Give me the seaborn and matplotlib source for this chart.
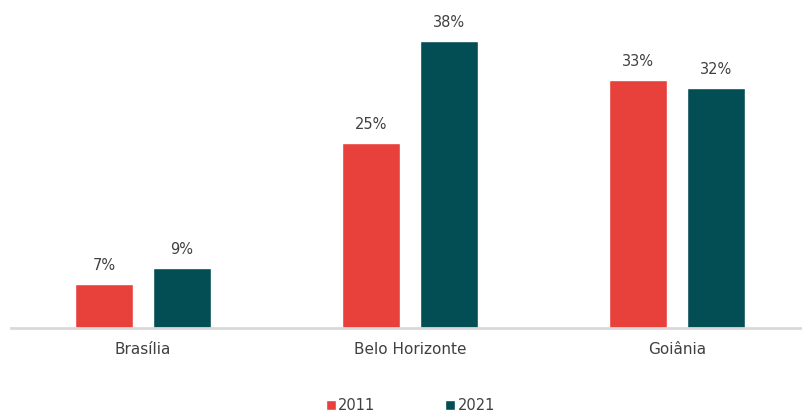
import matplotlib.pyplot as plt
import pandas as pd
import seaborn as sns

cities = ['Brasília', 'Belo Horizonte', 'Goiânia']
years = ['2011', '2021']
values_2011 = [7, 25, 33]
values_2021 = [9, 38, 32]
colors = ['#E8403A', '#034E55']

df = pd.DataFrame({
    'city': cities * 2,
    'year': [years[0]] * 3 + [years[1]] * 3,
    'value': values_2011 + values_2021,
})

sns.set_style('white')
plt.rcParams['font.family'] = ['DejaVu Sans']

fig = plt.figure(figsize=(8.03, 4.12), dpi=100)
ax = fig.add_axes([11 / 803, 84 / 412, 792 / 803, 318 / 412])

sns.barplot(data=df, x='city', y='value', hue='year', palette=colors,
            width=0.584, gap=0.256, ax=ax, legend=True, saturation=1)

for cont in ax.containers:
    ax.bar_label(cont, fmt='%d%%', padding=8, fontsize=10.5, color='#404040')

ax.set_ylim(1.4, 42)
ax.set_xlim(-0.494, 2.47)
ax.set_xlabel('')
ax.set_ylabel('')
ax.set_yticks([])
ax.tick_params(axis='x', length=0, labelsize=11, labelcolor='#404040', pad=10)
for s in ['top', 'right', 'left']:
    ax.spines[s].set_visible(False)
ax.spines['bottom'].set_color('#D9D9D9')
ax.spines['bottom'].set_linewidth(2)

handles, labels = ax.get_legend_handles_labels()
ax.get_legend().remove()
fig.legend(handles, labels, loc='lower center', bbox_to_anchor=(0.511, -0.035),
           ncol=2, frameon=False, handlelength=0.7, handleheight=0.7,
           handletextpad=0.15, columnspacing=4.8, fontsize=10.5,
           labelcolor='#404040')

fig.savefig('out.png', dpi=100)
